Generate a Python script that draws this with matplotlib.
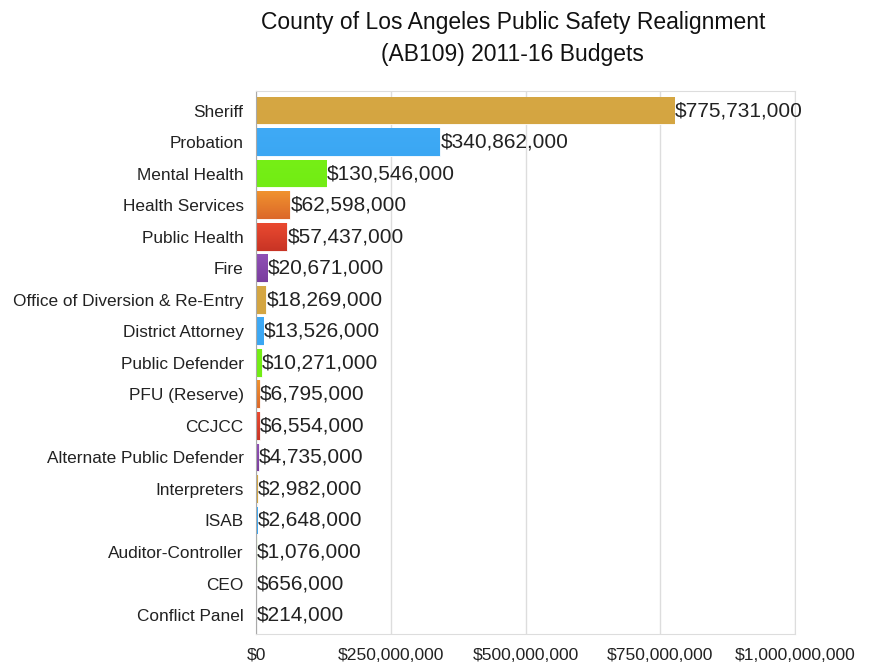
import numpy as np
import matplotlib
matplotlib.use("Agg")
import matplotlib.pyplot as plt
from matplotlib.colors import LinearSegmentedColormap
from matplotlib.ticker import FuncFormatter

plt.rcParams["font.family"] = ["Liberation Sans", "DejaVu Sans"]

#  Data
departments = [
    "Sheriff", "Probation", "Mental Health", "Health Services", "Public Health",
    "Fire", "Office of Diversion & Re-Entry", "District Attorney", "Public Defender",
    "PFU (Reserve)", "CCJCC", "Alternate Public Defender", "Interpreters", "ISAB",
    "Auditor-Controller", "CEO", "Conflict Panel",
]
budgets = [
    775731000, 340862000, 130546000, 62598000, 57437000,
    20671000, 18269000, 13526000, 10271000,
    6795000, 6554000, 4735000, 2982000, 2648000,
    1076000, 656000, 214000,
]
x_ticks = [0, 250000000, 500000000, 750000000, 1000000000]

# top / bottom colour of each palette entry (orange, red, purple have a slight gradient)
palette = [
    ("#D6A743", "#D4A541"),
    ("#3FAAF6", "#3BA7F3"),
    ("#76EF16", "#72EC14"),
    ("#F0922E", "#DC682A"),
    ("#EA4A30", "#C83425"),
    ("#9050B6", "#7A3E9E"),
]
colors = [palette[i % len(palette)] for i in range(len(departments))]

#  Plot
fig = plt.figure(figsize=(8.69, 6.65), dpi=100)
ax = fig.add_axes([0.2946, 0.0466, 0.6203, 0.8166])

y = np.arange(len(departments))
bars = ax.barh(y, budgets, height=0.88, color=[c[1] for c in colors],
               edgecolor="white", linewidth=0.6, zorder=2)

grad = np.linspace(0, 1, 64).reshape(-1, 1)
for bar, (top, bottom) in zip(bars, colors):
    cmap = LinearSegmentedColormap.from_list("g", [top, bottom])
    x0, y0 = bar.get_x(), bar.get_y()
    w, h = bar.get_width(), bar.get_height()
    im = ax.imshow(grad, cmap=cmap, aspect="auto", origin="upper",
                   extent=(x0, x0 + w, y0 + h, y0), zorder=2.1)
    im.set_clip_path(bar)

for yi, val in zip(y, budgets):
    ax.text(val + 1000000, yi, f"${val:,.0f}", va="center", ha="left",
            fontsize=15, color="#222222", zorder=3)

ax.set_ylim(16.6, -0.62)
ax.set_xlim(0, 1000000000)
ax.set_yticks(y)
ax.set_yticklabels(departments, fontsize=12.4)
ax.set_xticks(x_ticks)
ax.xaxis.set_major_formatter(FuncFormatter(lambda v, p: f"${v:,.0f}"))
ax.tick_params(axis="x", length=0, pad=10, labelsize=12.6)
ax.tick_params(axis="y", length=0, pad=9)
for lbl in ax.get_xticklabels() + ax.get_yticklabels():
    lbl.set_color("#222222")

ax.grid(axis="x", color="#DDDDDD", linewidth=1, zorder=0)
for side in ["top", "right", "bottom"]:
    ax.spines[side].set_color("#DDDDDD")
ax.spines["left"].set_color("#AAAAAA")

fig.text(0.59, 0.983, "County of Los Angeles Public Safety Realignment\n(AB109) 2011-16 Budgets",
         fontsize=16.5, ha="center", va="top", linespacing=1.5, color="#111111")

plt.savefig("out.png", dpi=100)
